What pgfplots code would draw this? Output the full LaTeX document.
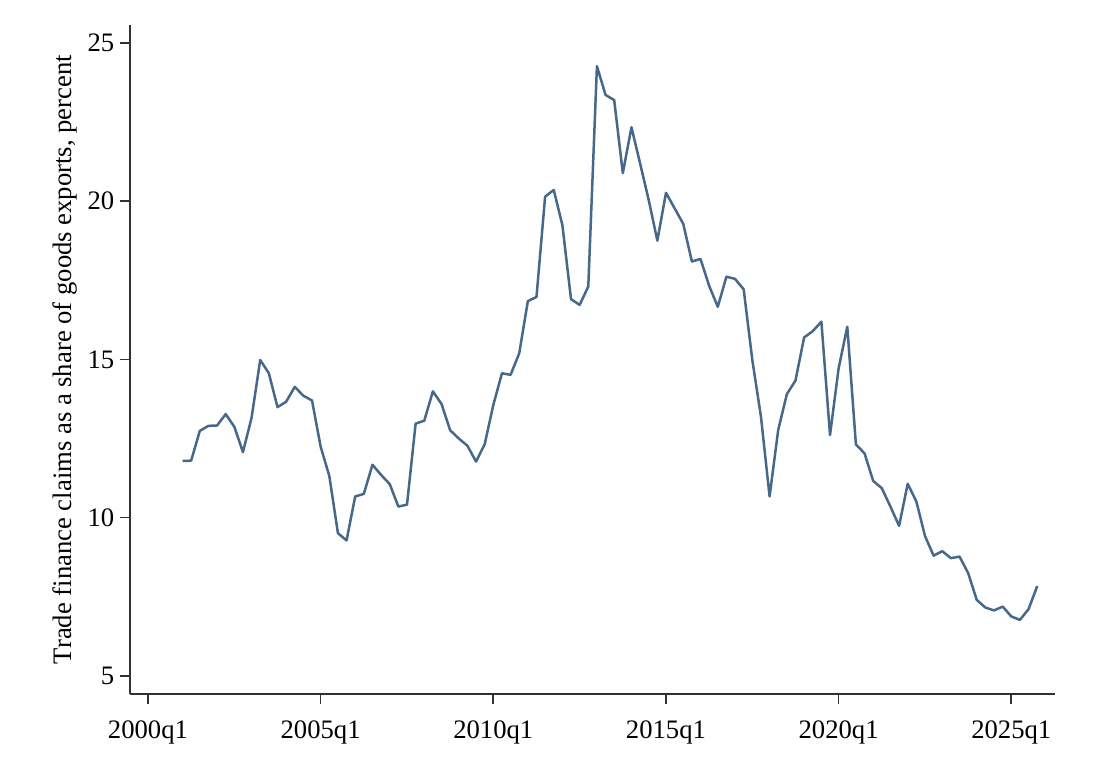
\documentclass[border=0pt]{standalone}
\usepackage{fontspec}
\setmainfont{Liberation Serif}
\usepackage{pgfplots}
\pgfplotsset{compat=1.18}
\definecolor{linecol}{RGB}{70,104,138}
\definecolor{axcol}{RGB}{50,50,50}
% quarters counted from 2000q1 = 0
\begin{document}
\begin{tikzpicture}
\useasboundingbox (-39pt,-19.8pt) rectangle (296.7pt,208.2pt);
\begin{axis}[
    at={(0,0)}, anchor=south west,
    scale only axis,
    width=277.5pt, height=200.7pt,
    xmin=-2.085, xmax=105.06,
    ymin=4.43, ymax=25.56,
    axis x line*=bottom, axis y line*=left,
    axis line style={-, axcol, line width=0.6pt},
    tick align=outside,
    major tick length=3pt,
    tick style={axcol, line width=0.5pt},
    xtick={0,20,40,60,80,100},
    xticklabels={2000q1,2005q1,2010q1,2015q1,2020q1,2025q1},
    ytick={5,10,15,20,25},
    /pgf/number format/assume math mode=true,
    tick label style={font=\fontsize{8}{9.6}\selectfont, inner sep=0pt},
    yticklabel style={anchor=east, xshift=-1.5pt},
    xticklabel style={anchor=north, yshift=-4.9pt},
    ylabel={Trade finance claims as a share of goods exports, percent},
    every axis y label/.style={at={(ticklabel cs:0.5)}, rotate=90,
        anchor=near ticklabel, inner sep=0pt, outer sep=0pt, yshift=3pt,
        font=\fontsize{8}{9.6}\selectfont},
    clip=false,
]
\addplot[linecol, line width=0.75pt, line join=round] table {
t v
4 11.79
5 11.80
6 12.74
7 12.90
8 12.91
9 13.27
10 12.87
11 12.07
12 13.16
13 14.98
14 14.56
15 13.49
16 13.66
17 14.13
18 13.85
19 13.70
20 12.24
21 11.32
22 9.51
23 9.28
24 10.67
25 10.75
26 11.67
27 11.35
28 11.06
29 10.35
30 10.41
31 12.97
32 13.06
33 13.99
34 13.59
35 12.76
36 12.50
37 12.27
38 11.77
39 12.32
40 13.56
41 14.56
42 14.51
43 15.19
44 16.84
45 16.97
46 20.14
47 20.35
48 19.24
49 16.90
50 16.72
51 17.30
52 24.26
53 23.35
54 23.19
55 20.88
56 22.33
57 21.19
58 20.03
59 18.75
60 20.26
61 19.77
62 19.28
63 18.09
64 18.17
65 17.32
66 16.66
67 17.61
68 17.54
69 17.21
70 14.98
71 13.19
72 10.67
73 12.77
74 13.90
75 14.33
76 15.69
77 15.89
78 16.19
79 12.61
80 14.72
81 16.03
82 12.31
83 12.03
84 11.16
85 10.93
86 10.35
87 9.74
88 11.07
89 10.51
90 9.42
91 8.80
92 8.94
93 8.72
94 8.77
95 8.25
96 7.40
97 7.16
98 7.07
99 7.19
100 6.88
101 6.77
102 7.11
103 7.84
};
\end{axis}
\end{tikzpicture}
\end{document}
